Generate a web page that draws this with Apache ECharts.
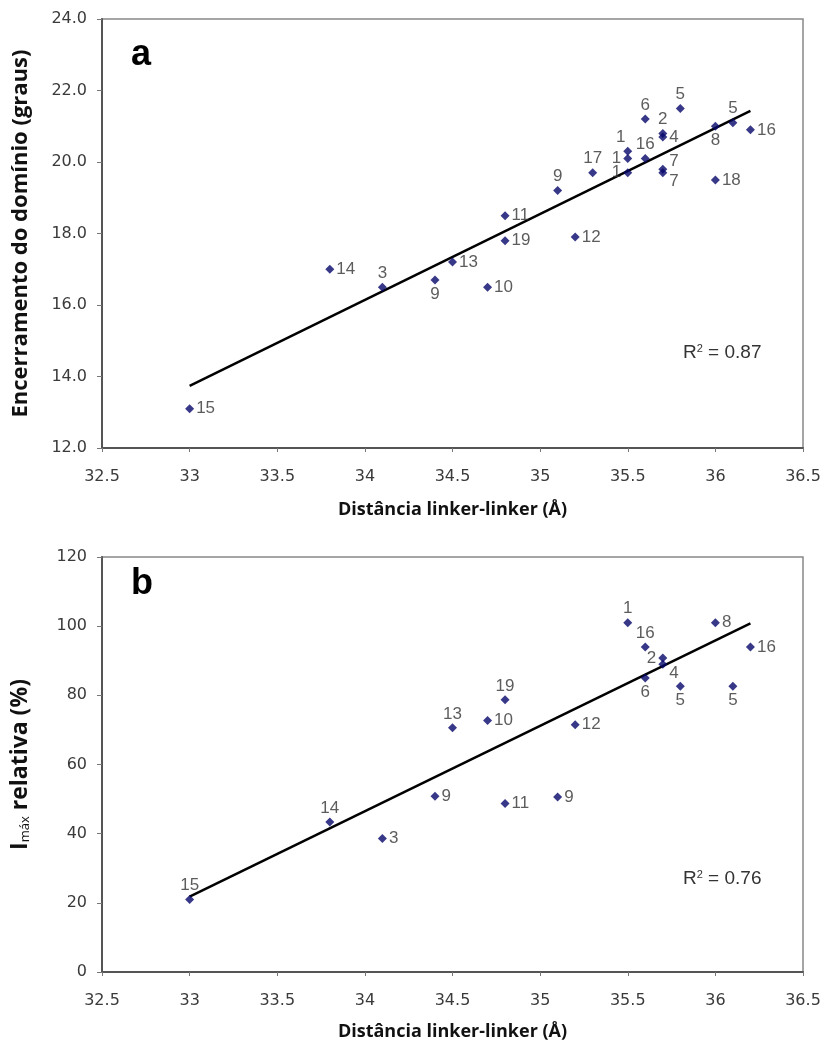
<!DOCTYPE html>
<html>
<head>
<meta charset="utf-8">
<script src="https://cdn.jsdelivr.net/npm/echarts@6/dist/echarts.min.js"></script>
<style>
  html, body { margin: 0; padding: 0; background: #fff; }
  #chart { width: 824px; height: 1044px; }
</style>
</head>
<body>
<div id="chart"></div>
<script>
// painel a: distancia linker-linker vs encerramento do dominio
var distA = [33, 33.8, 34.1, 34.4, 34.5, 34.7, 34.8, 34.8, 35.1, 35.2, 35.3, 35.5, 35.5, 35.5, 35.6, 35.6, 35.7, 35.7, 35.7, 35.7, 35.8, 36.0, 36.0, 36.1, 36.2];
var closeA = [13.1, 17.0, 16.5, 16.7, 17.2, 16.5, 18.5, 17.8, 19.2, 17.9, 19.7, 20.3, 20.1, 19.7, 20.1, 21.2, 20.8, 20.7, 19.8, 19.7, 21.5, 21.0, 19.5, 21.1, 20.9];
var idsA = ['15', '14', '3', '9', '13', '10', '11', '19', '9', '12', '17', '1', '1', '1', '16', '6', '2', '4', '7', '7', '5', '8', '18', '5', '16'];
var trendA = [[33, 13.74], [36.2, 21.43]];

// painel b: distancia linker-linker vs Imax relativa
var distB = [33, 33.8, 34.1, 34.4, 34.5, 34.7, 34.8, 34.8, 35.1, 35.2, 35.5, 35.6, 35.6, 35.7, 35.7, 35.8, 36.0, 36.1, 36.2];
var imaxB = [21, 43.4, 38.6, 50.8, 70.6, 72.7, 78.7, 48.7, 50.6, 71.5, 101, 94, 85, 90.8, 89, 82.6, 101, 82.6, 94];
var idsB = ['15', '14', '3', '9', '13', '10', '19', '11', '9', '12', '1', '16', '6', '2', '4', '5', '8', '5', '16'];
var trendB = [[33, 21.8], [36.2, 100.8]];

// onde fica o numero de cada ponto
var posA = ['r', 'r', 't', 'b', 'r', 'r', 'r', 'r', 't', 'r', 't', 'tl', 'l', 'l', 't', 't', 't', 'r', 'tr', 'br', 't', 'b', 'r', 't', 'r'];
var posB = ['t', 't', 'r', 'r', 't', 'r', 't', 'r', 'r', 'r', 't', 't', 'b', 'l', 'br', 'b', 'r', 'b', 'r'];

var labelPos = {
  r: { position: 'right', distance: 2 },
  l: { position: 'left', distance: 2 },
  t: { position: 'top', distance: 1 },
  b: { position: 'bottom', distance: 1 },
  tl: { position: 'top', distance: 1, offset: [-7, 0] },
  tr: { position: 'right', distance: 2, offset: [0, -8] },
  br: { position: 'right', distance: 2, offset: [0, 9] }
};

function points(xs, ys, ids, pos) {
  return xs.map(function (x, i) {
    return {
      value: [x, ys[i], ids[i]],
      label: labelPos[pos[i]]
    };
  });
}

var font = 'Liberation Sans, Arial, sans-serif';
var nameFont = 'Open Sans, Liberation Sans, sans-serif';
var tickFont = { color: '#3a3a3a', fontSize: 16, fontFamily: 'DejaVu Sans, sans-serif' };

function xAxis(idx, gap) {
  return {
    type: 'value', gridIndex: idx, min: 32.5, max: 36.5, interval: 0.5,
    name: 'Distância linker-linker (Å)', nameLocation: 'middle', nameGap: gap,
    nameTextStyle: { fontSize: 18, fontWeight: 'bold', color: '#111', fontFamily: nameFont },
    axisLine: { lineStyle: { color: '#555', width: 2 } },
    axisTick: { show: true, length: 4, lineStyle: { color: '#777' } },
    axisLabel: Object.assign({ margin: 21 }, tickFont),
    splitLine: { show: false }
  };
}

var chart = echarts.init(document.getElementById('chart'), null, { renderer: 'canvas' });

var dotStyle = { color: '#06066a' };
var lblStyle = { show: true, formatter: function (p) { return p.value[2]; }, color: '#333', fontSize: 17, fontFamily: font };

chart.setOption({
  backgroundColor: '#fff',
  animation: false,
  grid: [
    { left: 102, top: 19, width: 701, height: 429, show: true, borderColor: '#888', borderWidth: 1.5 },
    { left: 102, top: 557, width: 701, height: 415, show: true, borderColor: '#888', borderWidth: 1.5 }
  ],
  xAxis: [xAxis(0, 53), xAxis(1, 51)],
  yAxis: [
    {
      type: 'value', gridIndex: 0, min: 12, max: 24, interval: 2,
      name: 'Encerramento do domínio (graus)', nameLocation: 'middle', nameGap: 70,
      nameTextStyle: { fontSize: 22, fontWeight: 'bold', color: '#111', fontFamily: nameFont },
      axisLine: { show: true, lineStyle: { color: '#555', width: 2 } },
      axisTick: { show: true, length: 5, lineStyle: { color: '#777' } },
      axisLabel: Object.assign({ margin: 15, formatter: function (v) { return v.toFixed(1); } }, tickFont),
      splitLine: { show: false }
    },
    {
      type: 'value', gridIndex: 1, min: 0, max: 120, interval: 20,
      name: '{b|I}{s|máx}{b| relativa (%)}', nameLocation: 'middle', nameGap: 70,
      nameTextStyle: {
        rich: {
          b: { fontSize: 23, fontWeight: 'bold', color: '#111', fontFamily: nameFont },
          s: { fontSize: 13, color: '#111', fontFamily: nameFont, verticalAlign: 'bottom', padding: [11, 0, 0, 0] }
        }
      },
      axisLine: { show: true, lineStyle: { color: '#555', width: 2 } },
      axisTick: { show: true, length: 5, lineStyle: { color: '#777' } },
      axisLabel: Object.assign({ margin: 15 }, tickFont),
      splitLine: { show: false }
    }
  ],
  graphic: [
    { type: 'text', left: 131, top: 37, style: { text: 'a', font: 'bold 36px ' + font, fill: '#000' } },
    { type: 'text', left: 131, top: 566, style: { text: 'b', font: 'bold 36px ' + font, fill: '#000' } },
    { type: 'text', left: 683, top: 343, style: { text: 'R{sup|2} = 0.87', font: '19px ' + font, fill: '#333', rich: { sup: { fontSize: 11, padding: [0, 0, 9, 0] } } } },
    { type: 'text', left: 683, top: 869, style: { text: 'R{sup|2} = 0.76', font: '19px ' + font, fill: '#333', rich: { sup: { fontSize: 11, padding: [0, 0, 9, 0] } } } }
  ],
  series: [
    {
      type: 'line', xAxisIndex: 0, yAxisIndex: 0, data: trendA, showSymbol: false,
      lineStyle: { color: '#000', width: 2.5 }, z: 2
    },
    {
      type: 'scatter', xAxisIndex: 0, yAxisIndex: 0, symbol: 'diamond', symbolSize: 9,
      itemStyle: dotStyle, label: lblStyle, data: points(distA, closeA, idsA, posA), z: 3
    },
    {
      type: 'line', xAxisIndex: 1, yAxisIndex: 1, data: trendB, showSymbol: false,
      lineStyle: { color: '#000', width: 2.5 }, z: 2
    },
    {
      type: 'scatter', xAxisIndex: 1, yAxisIndex: 1, symbol: 'diamond', symbolSize: 9,
      itemStyle: dotStyle, label: lblStyle, data: points(distB, imaxB, idsB, posB), z: 3
    }
  ]
});
</script>
</body>
</html>
